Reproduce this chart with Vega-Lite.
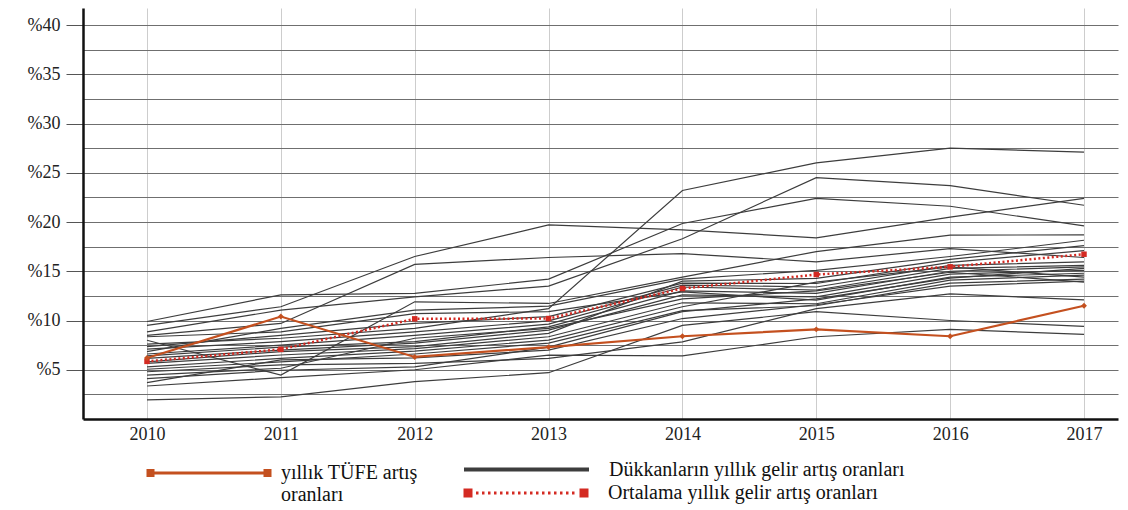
{
  "$schema": "https://vega.github.io/schema/vega-lite/v6.json",
  "width": 1035,
  "height": 411,
  "autosize": "none",
  "padding": {"left": 83, "top": 8, "right": 10, "bottom": 91},
  "background": "white",
  "config": {
    "view": {"stroke": null},
    "font": "Liberation Serif",
    "axis": {"labelFont": "Liberation Serif", "labelFontSize": 17, "labelColor": "#222", "title": null}
  },
  "datasets": {
    "tufe": [
      {"yil": 2010, "deger": 6.2}, {"yil": 2011, "deger": 10.4}, {"yil": 2012, "deger": 6.3}, {"yil": 2013, "deger": 7.3},
      {"yil": 2014, "deger": 8.4}, {"yil": 2015, "deger": 9.1}, {"yil": 2016, "deger": 8.4}, {"yil": 2017, "deger": 11.5}
    ],
    "ort": [
      {"yil": 2010, "deger": 5.85}, {"yil": 2011, "deger": 7.07}, {"yil": 2012, "deger": 10.17}, {"yil": 2013, "deger": 10.2},
      {"yil": 2014, "deger": 13.25}, {"yil": 2015, "deger": 14.67}, {"yil": 2016, "deger": 15.45}, {"yil": 2017, "deger": 16.73}
    ],
    "dukkan": [
      {"d": "S1", "yil": 2010, "deger": 7.6}, {"d": "S1", "yil": 2011, "deger": 8.2}, {"d": "S1", "yil": 2012, "deger": 9.2}, {"d": "S1", "yil": 2013, "deger": 11.2}, {"d": "S1", "yil": 2014, "deger": 23.2}, {"d": "S1", "yil": 2015, "deger": 26.0}, {"d": "S1", "yil": 2016, "deger": 27.5}, {"d": "S1", "yil": 2017, "deger": 27.1},
      {"d": "S2", "yil": 2010, "deger": 9.5}, {"d": "S2", "yil": 2011, "deger": 11.4}, {"d": "S2", "yil": 2012, "deger": 16.5}, {"d": "S2", "yil": 2013, "deger": 19.7}, {"d": "S2", "yil": 2014, "deger": 19.2}, {"d": "S2", "yil": 2015, "deger": 18.4}, {"d": "S2", "yil": 2016, "deger": 20.5}, {"d": "S2", "yil": 2017, "deger": 22.4},
      {"d": "S3", "yil": 2010, "deger": 9.9}, {"d": "S3", "yil": 2011, "deger": 12.6}, {"d": "S3", "yil": 2012, "deger": 12.75}, {"d": "S3", "yil": 2013, "deger": 14.2}, {"d": "S3", "yil": 2014, "deger": 19.85}, {"d": "S3", "yil": 2015, "deger": 22.4}, {"d": "S3", "yil": 2016, "deger": 21.6}, {"d": "S3", "yil": 2017, "deger": 19.6},
      {"d": "S4", "yil": 2010, "deger": 8.85}, {"d": "S4", "yil": 2011, "deger": 11.05}, {"d": "S4", "yil": 2012, "deger": 12.4}, {"d": "S4", "yil": 2013, "deger": 13.5}, {"d": "S4", "yil": 2014, "deger": 18.3}, {"d": "S4", "yil": 2015, "deger": 24.5}, {"d": "S4", "yil": 2016, "deger": 23.7}, {"d": "S4", "yil": 2017, "deger": 21.7},
      {"d": "S5", "yil": 2010, "deger": 8.5}, {"d": "S5", "yil": 2011, "deger": 9.7}, {"d": "S5", "yil": 2012, "deger": 15.7}, {"d": "S5", "yil": 2013, "deger": 16.4}, {"d": "S5", "yil": 2014, "deger": 16.8}, {"d": "S5", "yil": 2015, "deger": 15.95}, {"d": "S5", "yil": 2016, "deger": 17.3}, {"d": "S5", "yil": 2017, "deger": 16.4},
      {"d": "S6", "yil": 2010, "deger": 8.0}, {"d": "S6", "yil": 2011, "deger": 4.46}, {"d": "S6", "yil": 2012, "deger": 11.9}, {"d": "S6", "yil": 2013, "deger": 11.73}, {"d": "S6", "yil": 2014, "deger": 14.4}, {"d": "S6", "yil": 2015, "deger": 17.0}, {"d": "S6", "yil": 2016, "deger": 18.66}, {"d": "S6", "yil": 2017, "deger": 18.7},
      {"d": "S7", "yil": 2010, "deger": 6.85}, {"d": "S7", "yil": 2011, "deger": 9.2}, {"d": "S7", "yil": 2012, "deger": 11.05}, {"d": "S7", "yil": 2013, "deger": 11.46}, {"d": "S7", "yil": 2014, "deger": 14.2}, {"d": "S7", "yil": 2015, "deger": 15.1}, {"d": "S7", "yil": 2016, "deger": 16.5}, {"d": "S7", "yil": 2017, "deger": 18.15},
      {"d": "S8", "yil": 2010, "deger": 4.45}, {"d": "S8", "yil": 2011, "deger": 5.15}, {"d": "S8", "yil": 2012, "deger": 8.2}, {"d": "S8", "yil": 2013, "deger": 9.2}, {"d": "S8", "yil": 2014, "deger": 12.2}, {"d": "S8", "yil": 2015, "deger": 13.0}, {"d": "S8", "yil": 2016, "deger": 14.9}, {"d": "S8", "yil": 2017, "deger": 13.9},
      {"d": "S9", "yil": 2010, "deger": 7.35}, {"d": "S9", "yil": 2011, "deger": 8.5}, {"d": "S9", "yil": 2012, "deger": 9.7}, {"d": "S9", "yil": 2013, "deger": 10.4}, {"d": "S9", "yil": 2014, "deger": 13.8}, {"d": "S9", "yil": 2015, "deger": 13.76}, {"d": "S9", "yil": 2016, "deger": 15.9}, {"d": "S9", "yil": 2017, "deger": 17.1},
      {"d": "S10", "yil": 2010, "deger": 7.1}, {"d": "S10", "yil": 2011, "deger": 7.85}, {"d": "S10", "yil": 2012, "deger": 8.85}, {"d": "S10", "yil": 2013, "deger": 9.97}, {"d": "S10", "yil": 2014, "deger": 13.6}, {"d": "S10", "yil": 2015, "deger": 13.4}, {"d": "S10", "yil": 2016, "deger": 15.6}, {"d": "S10", "yil": 2017, "deger": 15.95},
      {"d": "S11", "yil": 2010, "deger": 6.6}, {"d": "S11", "yil": 2011, "deger": 7.5}, {"d": "S11", "yil": 2012, "deger": 8.5}, {"d": "S11", "yil": 2013, "deger": 9.63}, {"d": "S11", "yil": 2014, "deger": 13.4}, {"d": "S11", "yil": 2015, "deger": 13.1}, {"d": "S11", "yil": 2016, "deger": 15.3}, {"d": "S11", "yil": 2017, "deger": 15.6},
      {"d": "S12", "yil": 2010, "deger": 6.4}, {"d": "S12", "yil": 2011, "deger": 7.3}, {"d": "S12", "yil": 2012, "deger": 7.85}, {"d": "S12", "yil": 2013, "deger": 9.36}, {"d": "S12", "yil": 2014, "deger": 13.0}, {"d": "S12", "yil": 2015, "deger": 12.75}, {"d": "S12", "yil": 2016, "deger": 15.0}, {"d": "S12", "yil": 2017, "deger": 15.45},
      {"d": "S13", "yil": 2010, "deger": 6.15}, {"d": "S13", "yil": 2011, "deger": 7.0}, {"d": "S13", "yil": 2012, "deger": 7.7}, {"d": "S13", "yil": 2013, "deger": 9.03}, {"d": "S13", "yil": 2014, "deger": 12.6}, {"d": "S13", "yil": 2015, "deger": 12.4}, {"d": "S13", "yil": 2016, "deger": 14.7}, {"d": "S13", "yil": 2017, "deger": 15.1},
      {"d": "S14", "yil": 2010, "deger": 5.8}, {"d": "S14", "yil": 2011, "deger": 6.85}, {"d": "S14", "yil": 2012, "deger": 7.35}, {"d": "S14", "yil": 2013, "deger": 8.69}, {"d": "S14", "yil": 2014, "deger": 14.0}, {"d": "S14", "yil": 2015, "deger": 14.27}, {"d": "S14", "yil": 2016, "deger": 16.2}, {"d": "S14", "yil": 2017, "deger": 17.6},
      {"d": "S15", "yil": 2010, "deger": 5.65}, {"d": "S15", "yil": 2011, "deger": 6.5}, {"d": "S15", "yil": 2012, "deger": 7.15}, {"d": "S15", "yil": 2013, "deger": 8.35}, {"d": "S15", "yil": 2014, "deger": 11.8}, {"d": "S15", "yil": 2015, "deger": 11.7}, {"d": "S15", "yil": 2016, "deger": 14.1}, {"d": "S15", "yil": 2017, "deger": 14.6},
      {"d": "S16", "yil": 2010, "deger": 5.3}, {"d": "S16", "yil": 2011, "deger": 6.15}, {"d": "S16", "yil": 2012, "deger": 6.9}, {"d": "S16", "yil": 2013, "deger": 8.01}, {"d": "S16", "yil": 2014, "deger": 11.4}, {"d": "S16", "yil": 2015, "deger": 13.9}, {"d": "S16", "yil": 2016, "deger": 15.45}, {"d": "S16", "yil": 2017, "deger": 14.4},
      {"d": "S17", "yil": 2010, "deger": 5.05}, {"d": "S17", "yil": 2011, "deger": 5.8}, {"d": "S17", "yil": 2012, "deger": 6.6}, {"d": "S17", "yil": 2013, "deger": 7.7}, {"d": "S17", "yil": 2014, "deger": 11.0}, {"d": "S17", "yil": 2015, "deger": 11.5}, {"d": "S17", "yil": 2016, "deger": 13.8}, {"d": "S17", "yil": 2017, "deger": 14.2},
      {"d": "S18", "yil": 2010, "deger": 4.8}, {"d": "S18", "yil": 2011, "deger": 5.5}, {"d": "S18", "yil": 2012, "deger": 5.65}, {"d": "S18", "yil": 2013, "deger": 6.16}, {"d": "S18", "yil": 2014, "deger": 7.84}, {"d": "S18", "yil": 2015, "deger": 11.2}, {"d": "S18", "yil": 2016, "deger": 12.7}, {"d": "S18", "yil": 2017, "deger": 12.1},
      {"d": "S19", "yil": 2010, "deger": 4.1}, {"d": "S19", "yil": 2011, "deger": 4.95}, {"d": "S19", "yil": 2012, "deger": 5.3}, {"d": "S19", "yil": 2013, "deger": 7.3}, {"d": "S19", "yil": 2014, "deger": 10.9}, {"d": "S19", "yil": 2015, "deger": 12.2}, {"d": "S19", "yil": 2016, "deger": 14.3}, {"d": "S19", "yil": 2017, "deger": 15.3},
      {"d": "S20", "yil": 2010, "deger": 3.35}, {"d": "S20", "yil": 2011, "deger": 4.2}, {"d": "S20", "yil": 2012, "deger": 5.0}, {"d": "S20", "yil": 2013, "deger": 6.49}, {"d": "S20", "yil": 2014, "deger": 6.4}, {"d": "S20", "yil": 2015, "deger": 8.35}, {"d": "S20", "yil": 2016, "deger": 9.1}, {"d": "S20", "yil": 2017, "deger": 8.6},
      {"d": "S21", "yil": 2010, "deger": 1.95}, {"d": "S21", "yil": 2011, "deger": 2.25}, {"d": "S21", "yil": 2012, "deger": 3.8}, {"d": "S21", "yil": 2013, "deger": 4.7}, {"d": "S21", "yil": 2014, "deger": 9.5}, {"d": "S21", "yil": 2015, "deger": 10.9}, {"d": "S21", "yil": 2016, "deger": 10.0}, {"d": "S21", "yil": 2017, "deger": 9.4},
      {"d": "S22", "yil": 2010, "deger": 8.35}, {"d": "S22", "yil": 2011, "deger": 8.85}, {"d": "S22", "yil": 2012, "deger": 10.7}, {"d": "S22", "yil": 2013, "deger": 10.9}, {"d": "S22", "yil": 2014, "deger": 12.9}, {"d": "S22", "yil": 2015, "deger": 12.07}, {"d": "S22", "yil": 2016, "deger": 14.4}, {"d": "S22", "yil": 2017, "deger": 14.8},
      {"d": "S23", "yil": 2010, "deger": 3.7}, {"d": "S23", "yil": 2011, "deger": 6.0}, {"d": "S23", "yil": 2012, "deger": 6.2}, {"d": "S23", "yil": 2013, "deger": 7.0}, {"d": "S23", "yil": 2014, "deger": 10.2}, {"d": "S23", "yil": 2015, "deger": 11.6}, {"d": "S23", "yil": 2016, "deger": 13.5}, {"d": "S23", "yil": 2017, "deger": 14.0}
    ]
  },
  "encoding": {
    "x": {
      "field": "yil", "type": "quantitative",
      "scale": {"domain": [2009.522, 2017.254], "nice": false, "zero": false},
      "axis": {
        "values": [2010, 2011, 2012, 2013, 2014, 2015, 2016, 2017], "format": "d",
        "grid": true, "gridColor": "#cdcdcd", "gridWidth": 1,
        "ticks": false, "labelPadding": 6, "labelBaseline": "top",
        "labelFont": "Liberation Serif", "labelFontSize": 18, "labelColor": "#222",
        "domainColor": "#111", "domainWidth": 2.5
      }
    },
    "y": {
      "field": "deger", "type": "quantitative",
      "scale": {"domain": [0, 41.73], "nice": false, "zero": true},
      "axis": {
        "values": [2.5, 5, 7.5, 10, 12.5, 15, 17.5, 20, 22.5, 25, 27.5, 30, 32.5, 35, 37.5, 40],
        "labelExpr": "datum.value % 5 == 0 ? '%' + datum.value : ''",
        "labelFont": "Liberation Serif", "labelFontSize": 18, "labelColor": "#222",
        "grid": true, "gridColor": "#6f6f6f", "gridWidth": 1,
        "tickSize": 17, "tickColor": "#555", "tickWidth": 1,
        "tickOpacity": {"condition": {"test": "datum.value % 5 != 0", "value": 0}, "value": 1},
        "labelPadding": 6,
        "domainColor": "#111", "domainWidth": 2.5
      }
    }
  },
  "layer": [
    {
      "data": {"name": "dukkan"},
      "mark": {"type": "line", "strokeWidth": 1.2},
      "encoding": {
        "detail": {"field": "d"},
        "color": {
          "datum": "Dükkanların yıllık gelir artış oranları",
          "scale": {"domain": ["Dükkanların yıllık gelir artış oranları"], "range": ["#3d3d3d"]},
          "legend": {
            "orient": "none", "legendX": 379, "legendY": 397, "title": null, "padding": 0,
            "symbolType": "M-1,0H1", "symbolSize": 15625, "symbolStrokeWidth": 4, "symbolStrokeColor": "#4a4a4a",
            "labelFont": "Liberation Serif", "labelFontSize": 20, "labelColor": "#111", "labelOffset": 18, "labelLimit": 500
          }
        }
      }
    },
    {
      "data": {"name": "ort"},
      "layer": [
        {
          "mark": {"type": "line", "strokeWidth": 2.5, "strokeDash": [2, 2.5]},
          "encoding": {
            "color": {
              "datum": "Ortalama yıllık gelir artış oranları",
              "scale": {"domain": ["Ortalama yıllık gelir artış oranları"], "range": ["#d42a22"]},
              "legend": {
                "orient": "none", "legendX": 379, "legendY": 421, "title": null, "padding": 0,
                "symbolType": "M-1,0H-0.856M-1,-0.048H-0.856M-1,0.048H-0.856M0.856,0H1M0.856,-0.048H1M0.856,0.048H1M-0.8,0h0.04M-0.704,0h0.04M-0.608,0h0.04M-0.512,0h0.04M-0.416,0h0.04M-0.32,0h0.04M-0.224,0h0.04M-0.128,0h0.04M-0.032,0h0.04M0.064,0h0.04M0.16,0h0.04M0.256,0h0.04M0.352,0h0.04M0.448,0h0.04M0.544,0h0.04M0.64,0h0.04M0.736,0h0.04",
                "symbolSize": 15625, "symbolStrokeWidth": 3, "symbolDash": [],
                "labelFont": "Liberation Serif", "labelFontSize": 20, "labelColor": "#111", "labelOffset": 18, "labelLimit": 500
              }
            }
          }
        },
        {
          "mark": {"type": "point", "shape": "square", "filled": true, "size": 30, "color": "#d42a22", "opacity": 1}
        }
      ]
    },
    {
      "data": {"name": "tufe"},
      "layer": [
        {
          "mark": {"type": "line", "strokeWidth": 2.2},
          "encoding": {
            "color": {
              "datum": "yıllık TÜFE artış oranları",
              "scale": {"domain": ["yıllık TÜFE artış oranları"], "range": ["#c4501f"]},
              "legend": {
                "orient": "none", "legendX": 62, "legendY": 401, "title": null, "padding": 0,
                "symbolType": "M-1,0H1M-1,-0.04H-0.872M-1,0.04H-0.872M0.872,-0.04H1M0.872,0.04H1",
                "symbolSize": 15625, "symbolStrokeWidth": 3,
                "labelExpr": "['yıllık TÜFE artış', 'oranları']",
                "labelFont": "Liberation Serif", "labelFontSize": 20, "labelColor": "#111", "labelOffset": 8, "labelLimit": 500
              }
            }
          }
        },
        {
          "mark": {"type": "point", "shape": "diamond", "filled": true, "size": 35, "color": "#c4501f", "opacity": 1}
        }
      ]
    }
  ],
  "resolve": {"scale": {"color": "independent"}, "legend": {"color": "independent"}}
}
